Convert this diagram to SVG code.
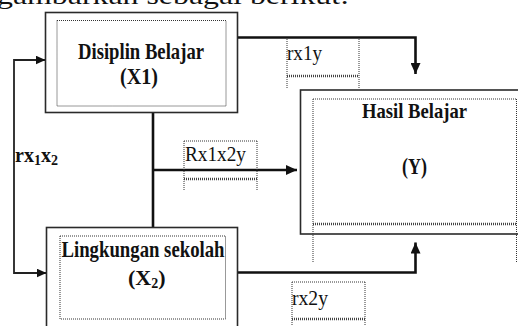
<svg xmlns="http://www.w3.org/2000/svg" width="518" height="326" viewBox="0 0 518 326">
<style>
.box{fill:none;stroke:#2a2a2a;stroke-width:1.6}
.dot{fill:none;stroke:#333;stroke-width:1;stroke-dasharray:1 1}
.dotb{fill:none;stroke:#444;stroke-width:2.4;stroke-dasharray:1 1}
.con{fill:none;stroke:#111;stroke-width:2.6}
.thin{fill:none;stroke:#222;stroke-width:1.8}
.t{font-family:"Liberation Serif","Times New Roman",serif;font-weight:bold;fill:#111}
.r{font-family:"Liberation Serif","Times New Roman",serif;fill:#111}
</style>
<defs>
<marker id="ah" markerUnits="userSpaceOnUse" markerWidth="12" markerHeight="10" refX="11" refY="5" orient="auto-start-reverse">
<path d="M0,0 L11,5 L0,10 Z" fill="#111"/>
</marker>
<marker id="as" markerUnits="userSpaceOnUse" markerWidth="11" markerHeight="10" refX="10" refY="4.5" orient="auto-start-reverse">
<path d="M0,0 L10,4.5 L0,9 Z" fill="#111"/>
</marker>
</defs>
<rect width="518" height="326" fill="#fff"/>
<text class="r" x="-3" y="4" font-size="26" textLength="352" lengthAdjust="spacingAndGlyphs">gambarkan sebagai berikut:</text>

<g id="connectors">
<path class="con" d="M237.5,37.5 H415.5 V74" marker-end="url(#ah)"/>
<path class="con" d="M153,112.5 V227.5"/>
<path class="con" d="M153,170 H297" marker-end="url(#ah)"/>
<path class="con" d="M237.5,272.5 H415.5 V242.5" marker-end="url(#ah)"/>
<path class="thin" d="M45.5,60 H14 V273 H46.5" marker-start="url(#as)" marker-end="url(#as)"/>
</g>

<g id="label-rx1y">
<path class="dot" d="M287,39 V88 M359,39 V88"/>
<path class="dotb" d="M287,76 H359"/>
<text class="r" x="287" y="60" font-size="21" textLength="35" lengthAdjust="spacingAndGlyphs">rx1y</text>
</g>

<g id="label-rx1x2y">
<path class="dot" d="M184,141 H257 M184,141 V190 M257,141 V190"/>
<path class="dotb" d="M184,179 H257"/>
<text class="r" x="185" y="161" font-size="21" textLength="61" lengthAdjust="spacingAndGlyphs">Rx1x2y</text>
</g>

<g id="label-rx2y">
<path class="dot" d="M292,282 H365 M292,282 V326 M365,282 V326"/>
<path class="dotb" d="M292,319 H365"/>
<text class="r" x="292" y="305" font-size="21" textLength="36" lengthAdjust="spacingAndGlyphs">rx2y</text>
</g>

<g id="label-rx1x2">
<text class="t" x="15" y="161.5" font-size="20">rx<tspan dy="3" font-size="14">1</tspan><tspan dy="-3">x</tspan><tspan dy="3" font-size="14">2</tspan></text>
</g>

<g id="node-x1">
<rect class="box" x="45.5" y="12.5" width="192" height="100"/>
<rect class="dot" x="57" y="20.5" width="169" height="85.5"/>
<text class="t" x="78" y="58.5" font-size="24" textLength="126" lengthAdjust="spacingAndGlyphs">Disiplin Belajar</text>
<text class="t" x="120" y="84" font-size="24" textLength="38" lengthAdjust="spacingAndGlyphs">(X1)</text>
</g>

<g id="node-y">
<rect class="box" x="300.5" y="90" width="230" height="144"/>
<path class="dot" d="M313,99 H516.5 M313,99 V263 M516.5,99 V263"/>
<path class="dotb" d="M313,224 H516.5"/>
<text class="t" x="362" y="118" font-size="22" textLength="105" lengthAdjust="spacingAndGlyphs">Hasil Belajar</text>
<text class="t" x="402" y="174" font-size="24" textLength="25" lengthAdjust="spacingAndGlyphs">(Y)</text>
</g>

<g id="node-x2">
<rect class="box" x="46.5" y="227.5" width="191" height="110"/>
<rect class="dot" x="60" y="236" width="165.5" height="83"/>
<text class="t" x="61.5" y="256.5" font-size="23" textLength="163" lengthAdjust="spacingAndGlyphs">Lingkungan sekolah</text>
<text class="t" x="128" y="285" font-size="22">(X<tspan dy="3" font-size="14">2</tspan><tspan dy="-3">)</tspan></text>
</g>
</svg>
